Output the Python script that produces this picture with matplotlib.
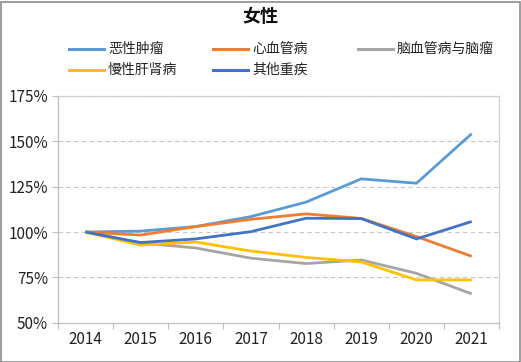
import matplotlib
matplotlib.use("Agg")
import matplotlib.pyplot as plt
from matplotlib.lines import Line2D
from matplotlib.patches import Rectangle
from matplotlib.ticker import FixedLocator, FuncFormatter

plt.rcParams['font.family'] = ['Noto Sans CJK SC', 'DejaVu Sans']

title = "女性"
years = ["2014", "2015", "2016", "2017", "2018", "2019", "2020", "2021"]
labels = ["恶性肿瘤", "心血管病", "脑血管病与脑瘤", "慢性肝肾病", "其他重疾"]
malignant = [100, 100.5, 103, 108.5, 116.5, 129.3, 126.9, 154.2]
cardio = [100, 98.3, 103, 107, 110, 107.5, 97.5, 86.6]
cerebro = [100, 94, 91.2, 85.6, 82.6, 84.6, 77.2, 65.9]
liver_kidney = [100, 92.8, 94.5, 89.5, 86, 83.5, 73.6, 73.6]
other = [100, 94.2, 96.2, 100.2, 107.6, 107.4, 96.2, 105.8]
y_ticks = [50, 75, 100, 125, 150, 175]

series = [malignant, cardio, cerebro, liver_kidney, other]
colors = ["#5B9BD5", "#ED7D31", "#A5A5A5", "#FFC000", "#4472C4"]

W, H = 521, 362
fig = plt.figure(figsize=(W / 100, H / 100), dpi=100)
fig.patch.set_facecolor("white")
fig.add_artist(Rectangle((0.5 / W, 0.5 / H), (W - 2) / W, (H - 2) / H,
                         transform=fig.transFigure, fill=False,
                         edgecolor="#8C8C8C", linewidth=1.2))

L, R, T, B = 57.7, 499.3, 96, 322.7
ax = fig.add_axes([L / W, 1 - B / H, (R - L) / W, (B - T) / H])

x = list(range(len(years)))
for vals, c in zip(series, colors):
    ax.plot(x, vals, color=c, linewidth=2.0, solid_capstyle="butt",
            solid_joinstyle="miter", zorder=3)

ax.set_xlim(-0.5, len(years) - 0.5)
ax.set_ylim(50, 175)
ax.yaxis.set_major_locator(FixedLocator(y_ticks))
ax.yaxis.set_major_formatter(FuncFormatter(lambda v, p: f"{v:.0f}%"))
ax.set_xticks(x)
ax.set_xticklabels(years)
ax.set_xticks([i - 0.5 for i in range(len(years) + 1)], minor=True)
ax.tick_params(axis="x", which="major", length=0, pad=6, labelsize=11, colors="#222222")
ax.tick_params(axis="x", which="minor", length=4, width=0.8, color="#BFBFBF", direction="out")
ax.tick_params(axis="y", which="major", length=4, width=0.8, color="#BFBFBF",
               pad=3, labelsize=11, labelcolor="#222222")
for t in ax.yaxis.get_major_ticks():
    t.tick1line.set_linestyle((0, (1, 1)))

ax.grid(axis="y", color="#C8C8C8", linestyle=(0, (4, 3)), linewidth=0.8, zorder=0)
for s in ["top", "right"]:
    ax.spines[s].set_color("#D0D0D0")
    ax.spines[s].set_linewidth(0.9)
for s in ["left", "bottom"]:
    ax.spines[s].set_color("#BFBFBF")
    ax.spines[s].set_linewidth(0.9)

fig.text(0.5, 1 - 16 / H, title, ha="center", va="center",
         fontsize=13, fontweight="bold", color="#111111")

# legend (Excel-like fixed grid)
col_x = [69, 213, 358]
row_y = [48.5, 70]
positions = [(0, 0), (1, 0), (2, 0), (0, 1), (1, 1)]
for lab, c, (ci, ri) in zip(labels, colors, positions):
    x0 = col_x[ci]
    y0 = 1 - row_y[ri] / H
    fig.add_artist(Line2D([x0 / W, (x0 + 35) / W], [y0, y0], color=c,
                          linewidth=2.2, transform=fig.transFigure))
    fig.text((x0 + 39) / W, y0, lab, ha="left", va="center",
             fontsize=10, color="#222222")

fig.savefig("out.png", dpi=100, facecolor="white")
